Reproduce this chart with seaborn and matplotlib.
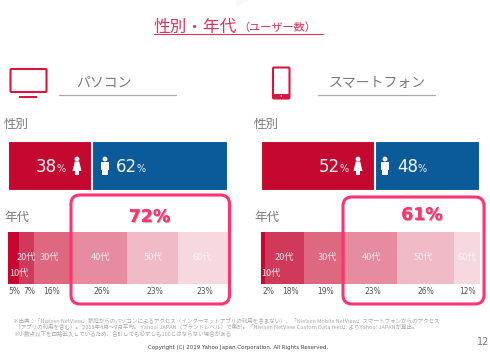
import numpy as np
import seaborn as sns
import matplotlib
matplotlib.use("Agg")
import matplotlib.pyplot as plt
from matplotlib.patches import FancyBboxPatch, Rectangle, Circle, Polygon
import matplotlib.patheffects as pe

# ---- data ----
gender_labels = ["女性", "男性"]
pc_gender = [38, 62]
sp_gender = [52, 48]
age_groups = ["10代", "20代", "30代", "40代", "50代", "60代"]
pc_age_labels = ["5%", "7%", "16%", "26%", "23%", "23%"]
sp_age_labels = ["2%", "18%", "19%", "23%", "26%", "12%"]
pc_age_drawn = [4.8, 6.8, 17.4, 25.1, 23.2, 22.7]
sp_age_drawn = [1.8, 17.8, 18.7, 23.7, 26.0, 12.0]
pc_total = "72%"
sp_total = "61%"
gender_colors = ["#C4082F", "#0B5A99"]
age_colors = ["#C7072F", "#D0395A", "#DD6880", "#E68C9E", "#F0BAC7", "#F6D8DE"]

W, H = 490, 352
sns.set_theme(style="white")
plt.rcParams["font.family"] = ["Noto Sans CJK JP", "DejaVu Sans"]
fig = plt.figure(figsize=(W / 100, H / 100), dpi=100, facecolor="white")


def bar_axes(x0, x1, y0, y1):
    ax = fig.add_axes([x0 / W, 1 - y1 / H, (x1 - x0) / W, (y1 - y0) / H])
    ax.set_axis_off()
    return ax


def stacked(ax, values, colors, edge=None, lw=0):
    cum = np.cumsum(values)
    for c, col in zip(cum[::-1], colors[::-1]):
        sns.barplot(x=[c], y=[""], color=col, saturation=1, width=1, orient="h",
                    ax=ax, edgecolor=edge, linewidth=lw)
    ax.set_xlim(0, cum[-1])
    ax.set_ylim(0.5, -0.5)
    ax.set_axis_off()


stacked(bar_axes(8, 228, 140.5, 191), pc_gender, gender_colors, "white", 1.5)
stacked(bar_axes(261, 480, 140.5, 191), sp_gender, gender_colors, "white", 1.5)
stacked(bar_axes(8, 228, 232, 284), pc_age_drawn, age_colors)
stacked(bar_axes(261, 480, 232, 284), sp_age_drawn, age_colors)

# overlay in pixel coordinates for text and decoration
ov = fig.add_axes([0, 0, 1, 1], zorder=10)
ov.set_xlim(0, W)
ov.set_ylim(H, 0)
ov.set_axis_off()
ov.patch.set_alpha(0)

RED = "#D9345B"
GRAY = "#7A7A7A"
DARK = "#555555"
PINK = "#FF3370"

# title
ov.text(154, 27, "性別・年代", color=RED, fontsize=12, ha="left", va="center")
ov.text(238, 28, "（ユーザー数）", color=RED, fontsize=8, ha="left", va="center")
ov.plot([154, 323], [33.7, 33.7], color=RED, lw=0.8)
ov.add_patch(Polygon([[236, 7], [250, 0], [236, 0]], color="#F8F8F8", lw=0))

# device headers
ov.add_patch(FancyBboxPatch((10.5, 69), 36, 23, boxstyle="round,pad=0,rounding_size=1.2",
                            fc="white", ec="#D8163F", lw=1.5))
ov.add_patch(Rectangle((19, 95.5), 18, 2.5, color="#D8163F", lw=0))
ov.add_patch(FancyBboxPatch((273, 67.5), 16.5, 31, boxstyle="round,pad=0,rounding_size=1.2",
                            fc="white", ec="#D8163F", lw=1.5))
ov.add_patch(Rectangle((273, 93.5), 16.5, 5, color="#D8163F", lw=0))
ov.add_patch(Circle((281.3, 96), 0.8, color="white", lw=0))
ov.text(104, 83, "パソコン", color=GRAY, fontsize=10, ha="center", va="center")
ov.text(377, 83, "スマートフォン", color=GRAY, fontsize=10, ha="center", va="center")
ov.plot([59, 176], [95, 95], color="#AAAAAA", lw=0.9)
ov.plot([318, 435], [95, 95], color="#AAAAAA", lw=0.9)

# section labels
for x, y, s in [(4, 124, "性別"), (254, 124, "性別"), (4, 217, "年代"), (254, 217, "年代")]:
    ov.text(x, y, s, color=GRAY, fontsize=9, ha="left", va="center")


def female(x, y=166):
    ov.add_patch(Circle((x, y - 7), 2.4, color="white", lw=0))
    ov.add_patch(Polygon([[x - 2.2, y - 4.5], [x + 2.2, y - 4.5], [x + 4.5, y + 5], [x - 4.5, y + 5]],
                         color="white", lw=0))
    ov.add_patch(Rectangle((x - 2.4, y + 5), 2, 3.5, color="white", lw=0))
    ov.add_patch(Rectangle((x + 0.4, y + 5), 2, 3.5, color="white", lw=0))


def male(x, y=166):
    ov.add_patch(Circle((x, y - 7), 2.4, color="white", lw=0))
    ov.add_patch(Rectangle((x - 4.2, y - 4.5), 8.4, 8.5, color="white", lw=0))
    ov.add_patch(Rectangle((x - 3, y + 4), 2.7, 5, color="white", lw=0))
    ov.add_patch(Rectangle((x + 0.3, y + 4), 2.7, 5, color="white", lw=0))


female(77)
male(105)
female(358)
male(385)


def pct(x, val):
    ov.text(x, 167, str(val), color="#F7F7F7", fontsize=12, ha="left", va="center",
            family="DejaVu Sans")
    ov.text(x + 20, 169, "%", color="#EEEEEE", fontsize=7, ha="left", va="center",
            family="DejaVu Sans")


pct(36, pc_gender[0])
pct(116, pc_gender[1])
pct(319, sp_gender[0])
pct(397, sp_gender[1])

# age labels
pc_name_x = [19, 26, 49, 100, 153, 202]
sp_name_x = [271, 284, 327, 371, 423, 467]
pc_pct_x = [14, 29, 52, 102, 155, 205]
sp_pct_x = [268, 291, 326, 373, 426, 468]
name_cols = ["#FBE9ED", "#FBE9ED", "#FBE9ED", "#FBE9ED", "#FBEFF2", "#FDF3F5"]
for nx, px, plab in [(pc_name_x, pc_pct_x, pc_age_labels), (sp_name_x, sp_pct_x, sp_age_labels)]:
    for i, g in enumerate(age_groups):
        ov.text(nx[i], 273 if i == 0 else 257.7, g, color=name_cols[i], fontsize=6.6,
                ha="center", va="center", zorder=6)
        ov.text(px[i], 291.5, plab[i], color=DARK, fontsize=5.5, ha="center", va="center",
                family="DejaVu Sans")

# highlight frames and totals
for x0, x1, y0, y1, s, cx, cy in [(71, 229.5, 195, 304, pc_total, 149.5, 217),
                                  (343, 484, 197, 304, sp_total, 422, 215)]:
    ov.add_patch(FancyBboxPatch((x0, y0), x1 - x0, y1 - y0,
                                boxstyle="round,pad=0,rounding_size=9",
                                fc="none", ec=PINK, lw=2.2, zorder=7))
    ov.text(cx, cy, s, color=PINK, fontsize=12.5, fontweight="bold", ha="center", va="center",
            family="DejaVu Sans", zorder=8,
            path_effects=[pe.withSimplePatchShadow(offset=(0.6, -0.8), shadow_rgbFace="#999999", alpha=0.6),
                          pe.Normal()])

# notes
note = "#A8A8A8"
ov.text(13, 320, "※出典：「Nielsen NetView」家庭からのパソコンによるアクセス（インターネットアプリの利用を含まない）、「Nielsen Mobile NetView」スマートフォンからのアクセス",
        color=note, fontsize=4.0, ha="left", va="center")
ov.text(15, 326.5, "（アプリの利用を含む）。 2018年4月～9月平均。 Yahoo! JAPAN（ブランドレベル）で集計。「Nielsen NetView Custom Data feed」よりYahoo! JAPANが算出。",
        color=note, fontsize=4.0, ha="left", va="center")
ov.text(13, 334, "※小数点以下を四捨五入しているため、合計しても必ずしも100とはならない場合がある",
        color=note, fontsize=4.0, ha="left", va="center")
ov.text(238, 347, "Copyright (C) 2019 Yahoo Japan Corporation. All Rights Reserved.", color="#444444",
        fontsize=3.95, ha="center", va="center", family="DejaVu Sans")
ov.text(489, 342, "12", color=GRAY, fontsize=7, ha="right", va="center", family="DejaVu Sans")

fig.savefig("out.png", dpi=100, facecolor="white")
